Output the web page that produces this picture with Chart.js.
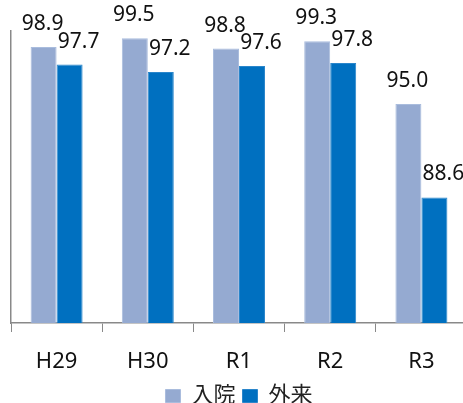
<!DOCTYPE html>
<html>
<head>
<meta charset="utf-8">
<script src="https://cdn.jsdelivr.net/npm/chart.js@4"></script>
<style>
  html, body { margin: 0; padding: 0; background: #fff; overflow: hidden; }
  #wrap { width: 467px; height: 417px; position: relative; }
</style>
</head>
<body>
<div id="wrap"><canvas id="c"></canvas></div>
<script>
// Fiscal years
const categories = ['H29', 'H30', 'R1', 'R2', 'R3'];
// Series values (%)
const inpatient = [98.9, 99.5, 98.8, 99.3, 95.0];
const outpatient = [97.7, 97.2, 97.6, 97.8, 88.6];
const seriesNames = ['入院', '外来'];

const FONT = "'Noto Sans', 'Noto Sans CJK JP', sans-serif";

// Draws each bar's value above it
const valueLabels = {
  id: 'valueLabels',
  afterDatasetsDraw(chart) {
    const ctx = chart.ctx;
    ctx.save();
    ctx.font = '21px ' + FONT;
    ctx.fillStyle = '#111';
    ctx.textAlign = 'center';
    ctx.textBaseline = 'alphabetic';
    chart.data.datasets.forEach((ds, di) => {
      const meta = chart.getDatasetMeta(di);
      meta.data.forEach((bar, i) => {
        const shift = di === 0 ? -1 : 9;
        ctx.fillText(ds.data[i].toFixed(1), bar.x + shift, bar.y - 17);
      });
    });
    ctx.restore();
  }
};

new Chart(document.getElementById('c'), {
  type: 'bar',
  data: {
    labels: categories,
    datasets: [
      { label: seriesNames[0], data: inpatient, backgroundColor: '#95AAD1', borderColor: '#A9BCDD', borderWidth: 1 },
      { label: seriesNames[1], data: outpatient, backgroundColor: '#0070C0', borderColor: '#2A86CB', borderWidth: 1 }
    ]
  },
  options: {
    responsive: true,
    maintainAspectRatio: false,
    animation: false,
    layout: { padding: { left: 11, top: 31, right: 0, bottom: 0 } },
    datasets: { bar: { categoryPercentage: 0.57, barPercentage: 1.0 } },
    scales: {
      x: {
        grid: { display: true, drawOnChartArea: false, drawTicks: true, tickLength: 9, color: '#898989', offset: true },
        border: { display: true, color: '#898989', width: 1.5 },
        ticks: { color: '#111', font: { family: FONT, size: 22 }, padding: 17 },
        afterFit(scale) { scale.height = 55; }
      },
      y: {
        min: 80, max: 100,
        grid: { display: false, drawTicks: false },
        border: { display: true, color: '#898989', width: 1.5 },
        ticks: { display: false }
      }
    },
    plugins: {
      legend: {
        position: 'bottom',
        labels: {
          color: '#222',
          font: { family: FONT, size: 22 },
          boxWidth: 15, boxHeight: 13, padding: 7
        }
      },
      tooltip: { enabled: false }
    }
  },
  plugins: [valueLabels]
});
</script>
</body>
</html>
